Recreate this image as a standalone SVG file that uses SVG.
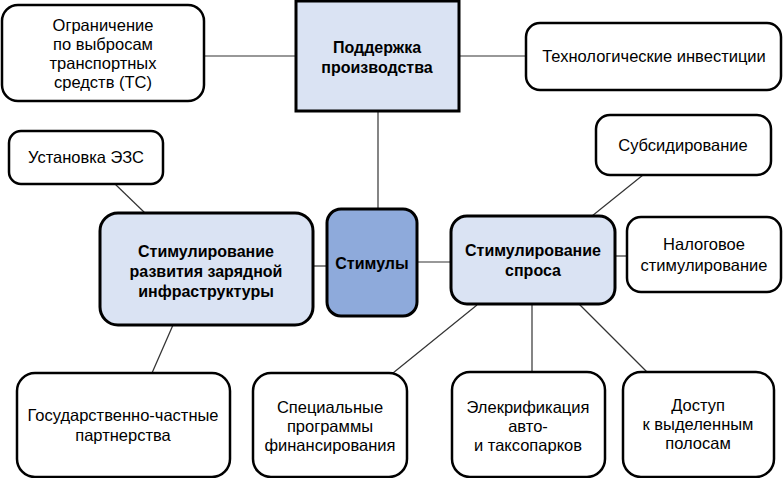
<svg xmlns="http://www.w3.org/2000/svg" width="783" height="478" viewBox="0 0 783 478">
<style>
.b{fill:#fff;stroke:#000;stroke-width:2.5}
.m{fill:#dae3f3;stroke:#000;stroke-width:3}
.c{fill:#8eaadb;stroke:#000;stroke-width:3}
text{font-family:"Liberation Sans",Arial,sans-serif;font-size:16.5px;fill:#000;text-anchor:middle}
.t{font-weight:bold;font-size:16px}
.l{stroke:#333;stroke-width:1.2;fill:none}
</style>
<g id="connectors">
<line class="l" x1="204" y1="56" x2="295" y2="56"/>
<line class="l" x1="459" y1="56" x2="526" y2="56"/>
<line class="l" x1="378" y1="111" x2="378" y2="209"/>
<line class="l" x1="115" y1="184" x2="145" y2="213"/>
<line class="l" x1="313" y1="266" x2="327" y2="266"/>
<line class="l" x1="417" y1="262" x2="451" y2="262"/>
<line class="l" x1="643" y1="175" x2="592" y2="216"/>
<line class="l" x1="615" y1="256" x2="627" y2="256"/>
<line class="l" x1="173" y1="325" x2="152" y2="373"/>
<line class="l" x1="477" y1="305" x2="393" y2="373"/>
<line class="l" x1="532" y1="304" x2="532" y2="372"/>
<line class="l" x1="579" y1="304" x2="647" y2="372"/>
</g>
<g id="n-ogr"><rect class="b" x="2" y="5" width="202" height="96" rx="16"/>
<text x="103" y="31">Ограничение</text><text x="103" y="50">по выбросам</text><text x="103" y="69">транспортных</text><text x="103" y="88">средств (ТС)</text></g>
<g id="n-podd"><rect class="m" x="296" y="1" width="163" height="110"/>
<text class="t" x="377" y="53">Поддержка</text><text class="t" x="377" y="73">производства</text></g>
<g id="n-tech"><rect class="b" x="526" y="23" width="255" height="67" rx="14"/>
<text x="654" y="62">Технологические инвестиции</text></g>
<g id="n-ezs"><rect class="b" x="9" y="131" width="154" height="53" rx="12"/>
<text x="86" y="163">Установка ЭЗС</text></g>
<g id="n-zar"><rect class="m" x="100" y="213" width="213" height="112" rx="18"/>
<text class="t" x="206" y="257">Стимулирование</text><text class="t" x="206" y="277">развития зарядной</text><text class="t" x="206" y="297">инфраструктуры</text></g>
<g id="n-stim"><rect class="c" x="327" y="209" width="90" height="107" rx="14"/>
<text class="t" x="372" y="269">Стимулы</text></g>
<g id="n-spros"><rect class="m" x="451" y="216" width="164" height="88" rx="16"/>
<text class="t" x="533" y="256">Стимулирование</text><text class="t" x="533" y="276">спроса</text></g>
<g id="n-sub"><rect class="b" x="596" y="115" width="175" height="60" rx="14"/>
<text x="683" y="151">Субсидирование</text></g>
<g id="n-nal"><rect class="b" x="627" y="217" width="154" height="75" rx="14"/>
<text x="704" y="250">Налоговое</text><text x="704" y="271">стимулирование</text></g>
<g id="n-gchp"><rect class="b" x="17" y="373" width="213" height="104" rx="18"/>
<text x="123" y="421">Государственно-частные</text><text x="123" y="441">партнерства</text></g>
<g id="n-spec"><rect class="b" x="253" y="373" width="154" height="104" rx="18"/>
<text x="330" y="413">Специальные</text><text x="330" y="432">программы</text><text x="330" y="451">финансирования</text></g>
<g id="n-el"><rect class="b" x="452" y="372" width="153" height="105" rx="18"/>
<text x="528" y="413">Элекрификация</text><text x="528" y="432">авто-</text><text x="528" y="451">и таксопарков</text></g>
<g id="n-dost"><rect class="b" x="623" y="372" width="151" height="105" rx="18"/>
<text x="698" y="411">Доступ</text><text x="698" y="430">к выделенным</text><text x="698" y="449">полосам</text></g>
</svg>
